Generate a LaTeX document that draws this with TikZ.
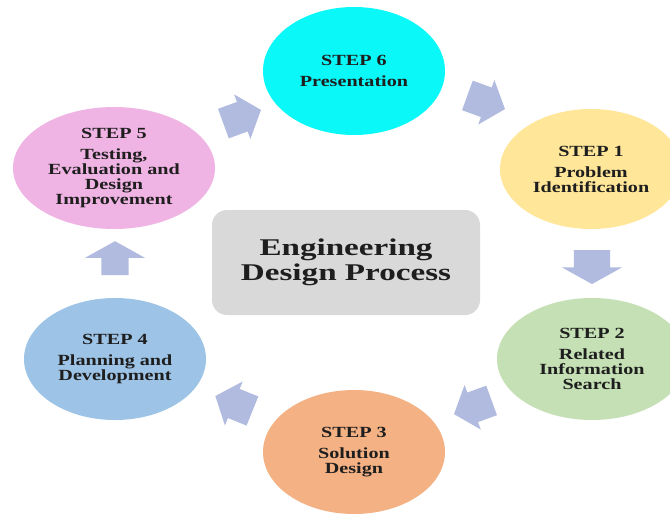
\documentclass[tikz,border=0pt]{standalone}
\usepackage{fontspec}
\setmainfont{Liberation Serif}[FakeStretch=1.3]
\newfontfamily\titlefont{Liberation Serif}[FakeStretch=1.38]
\usetikzlibrary{shapes.geometric,shapes.arrows}

\definecolor{stepcyan}{HTML}{0AF8F8}
\definecolor{stepyellow}{HTML}{FFE699}
\definecolor{stepgreen}{HTML}{C5E0B4}
\definecolor{steporange}{HTML}{F4B183}
\definecolor{stepblue}{HTML}{9DC3E6}
\definecolor{steppink}{HTML}{F0B4E4}
\definecolor{centergray}{HTML}{D9D9D9}
\definecolor{arrowblue}{HTML}{B0BBDF}
\definecolor{textdark}{HTML}{1E1E1E}

\begin{document}
\begin{tikzpicture}[x=1pt,y=-1pt,
  stepnode/.style={ellipse, inner sep=0pt, align=center, text=textdark,
    font=\bfseries\fontsize{15.5}{15}\selectfont,
    minimum width=182pt, minimum height=124pt},
  % shaft width = 2 x inner ysep, head width = shaft + 2 x head extend
  diagarrow/.style={single arrow, fill=arrowblue, draw=none,
    inner xsep=0pt, inner ysep=15.5pt, minimum height=40pt,
    single arrow head extend=8pt, single arrow tip angle=100},
  vertarrow/.style={single arrow, fill=arrowblue, draw=none,
    inner xsep=0pt, inner ysep=18pt, minimum height=34pt,
    single arrow head extend=12pt, single arrow tip angle=122},
]
\useasboundingbox (0,0) rectangle (670,514);
\clip (0,0) rectangle (670,514);
\fill[white] (0,0) rectangle (670,514);

% the six steps of the cycle
\node[stepnode, fill=stepcyan, minimum height=128pt] (s6) at (354,71)
  {STEP 6\\[6pt]Presentation};
\node[stepnode, fill=stepyellow, minimum height=120pt] (s1) at (591,169)
  {STEP 1\\[6pt]Problem\\Identification};
\node[stepnode, fill=stepgreen, minimum width=190pt, minimum height=122pt] (s2) at (592,359)
  {STEP 2\\[6pt]Related\\Information\\Search};
\node[stepnode, fill=steporange] (s3) at (354,452)
  {STEP 3\\[6pt]Solution\\Design};
\node[stepnode, fill=stepblue, minimum height=122pt] (s4) at (115,359)
  {STEP 4\\[6pt]Planning and\\Development};
\node[stepnode, fill=steppink, minimum width=202pt, minimum height=122pt] (s5) at (114,168)
  {STEP 5\\[6pt]Testing,\\Evaluation and\\Design\\Improvement};

% central title box
\node[fill=centergray, rounded corners=15pt, minimum width=268pt, minimum height=105pt,
  align=center, text=textdark, font=\titlefont\bfseries\fontsize{24}{25}\selectfont]
  (title) at (346,262.5) {Engineering\\Design Process};

% block arrows between consecutive steps
\node[diagarrow, rotate=20] (a56) at (236,119) {};
\node[diagarrow, rotate=-20] (a61) at (480,100) {};
\node[vertarrow, rotate=-90] (a12) at (592,262) {};
\node[diagarrow, rotate=200] (a23) at (479,405) {};
\node[diagarrow, rotate=158] (a34) at (240,406) {};
\node[vertarrow, rotate=90, inner ysep=13.5pt, single arrow head extend=16.5pt] (a45) at (115,262) {};
\end{tikzpicture}
\end{document}
